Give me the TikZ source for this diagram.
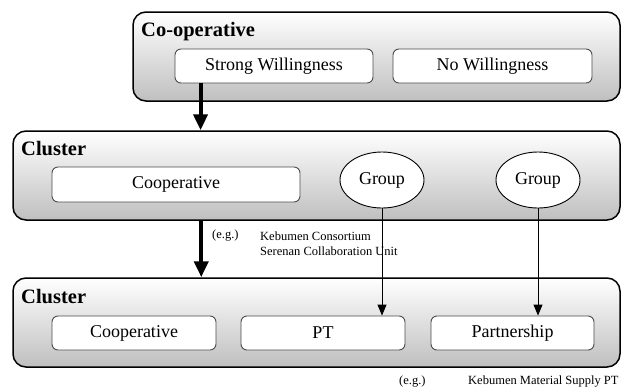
\documentclass[tikz,border=0pt]{standalone}
\usepackage{fontspec}
\setmainfont{Liberation Serif}
\usetikzlibrary{arrows.meta,shapes.geometric}

\tikzset{
  panel/.style={draw=black, line width=1.5pt, rounded corners=13pt,
    top color=white, bottom color=black!25, inner sep=0pt},
  itembox/.style={draw=black!70, line width=0.9pt, rounded corners=6pt,
    fill=white, inner sep=0pt, font=\fontsize{18}{20}\selectfont},
  groupnode/.style={ellipse, draw=black, line width=0.9pt, fill=white,
    inner sep=0pt, minimum width=84pt, minimum height=56pt,
    font=\fontsize{18}{20}\selectfont},
  heading/.style={anchor=base west, inner sep=0pt,
    font=\fontsize{20.5}{22}\selectfont\bfseries},
  note/.style={anchor=west, inner sep=0pt, align=left,
    font=\fontsize{12.5}{15}\selectfont},
  bigarrow/.style={line width=4pt, -{Triangle[width=14pt,length=16pt]}},
  thinarrow/.style={line width=0.9pt, -{Triangle[width=9pt,length=11pt]}}
}

\begin{document}
\begin{tikzpicture}[x=1pt,y=-1pt]
\useasboundingbox (0,0) rectangle (622,389);

% Co-operative panel
\node[panel, minimum width=487pt, minimum height=89pt] (coop) at (376.5,56.5) {};
\node[heading] (cooplbl) at (141,36) {Co-operative};
\node[itembox, minimum width=198pt, minimum height=34pt] (strong) at (274,66) {Strong Willingness};
\node[itembox, minimum width=199pt, minimum height=34pt] (nowill) at (492.5,66) {No Willingness};

% First cluster
\node[panel, minimum width=607pt, minimum height=89pt] (clu1) at (316.5,175.5) {};
\node[heading] (clu1lbl) at (21,155) {Cluster};
\node[itembox, minimum width=248pt, minimum height=35pt] (coop1) at (176,184.5) {Cooperative};
\node[groupnode] (g1) at (382,180) {Group};
\node[groupnode] (g2) at (538,180) {Group};

% Second cluster
\node[panel, minimum width=607pt, minimum height=89pt] (clu2) at (316.5,322.5) {};
\node[heading] (clu2lbl) at (21,303) {Cluster};
\node[itembox, minimum width=164pt, minimum height=34pt] (coop2) at (134,333) {Cooperative};
\node[itembox, minimum width=164pt, minimum height=34pt] (pt) at (323,333) {PT};
\node[itembox, minimum width=163pt, minimum height=34pt] (part) at (512.5,333) {Partnership};

% Examples
\node[note] (eg1) at (212,236) {(e.g.)};
\node[note] (ex1) at (260,243.5) {Kebumen Consortium\\Serenan Collaboration Unit};
\node[note] (eg2) at (399,382) {(e.g.)};
\node[note] (ex2) at (468,382) {Kebumen Material Supply PT};

% Connectors
\draw[bigarrow] ([xshift=26pt]strong.south west) -- ([xshift=26pt]strong.south west |- clu1.north);
\draw[bigarrow] ([xshift=189pt]clu1.south west) -- ([xshift=189pt]clu2.north west);
\draw[thinarrow] (g1.south) -- (g1.south |- pt.north);
\draw[thinarrow] (g2.south) -- (g2.south |- part.north);
\end{tikzpicture}
\end{document}
